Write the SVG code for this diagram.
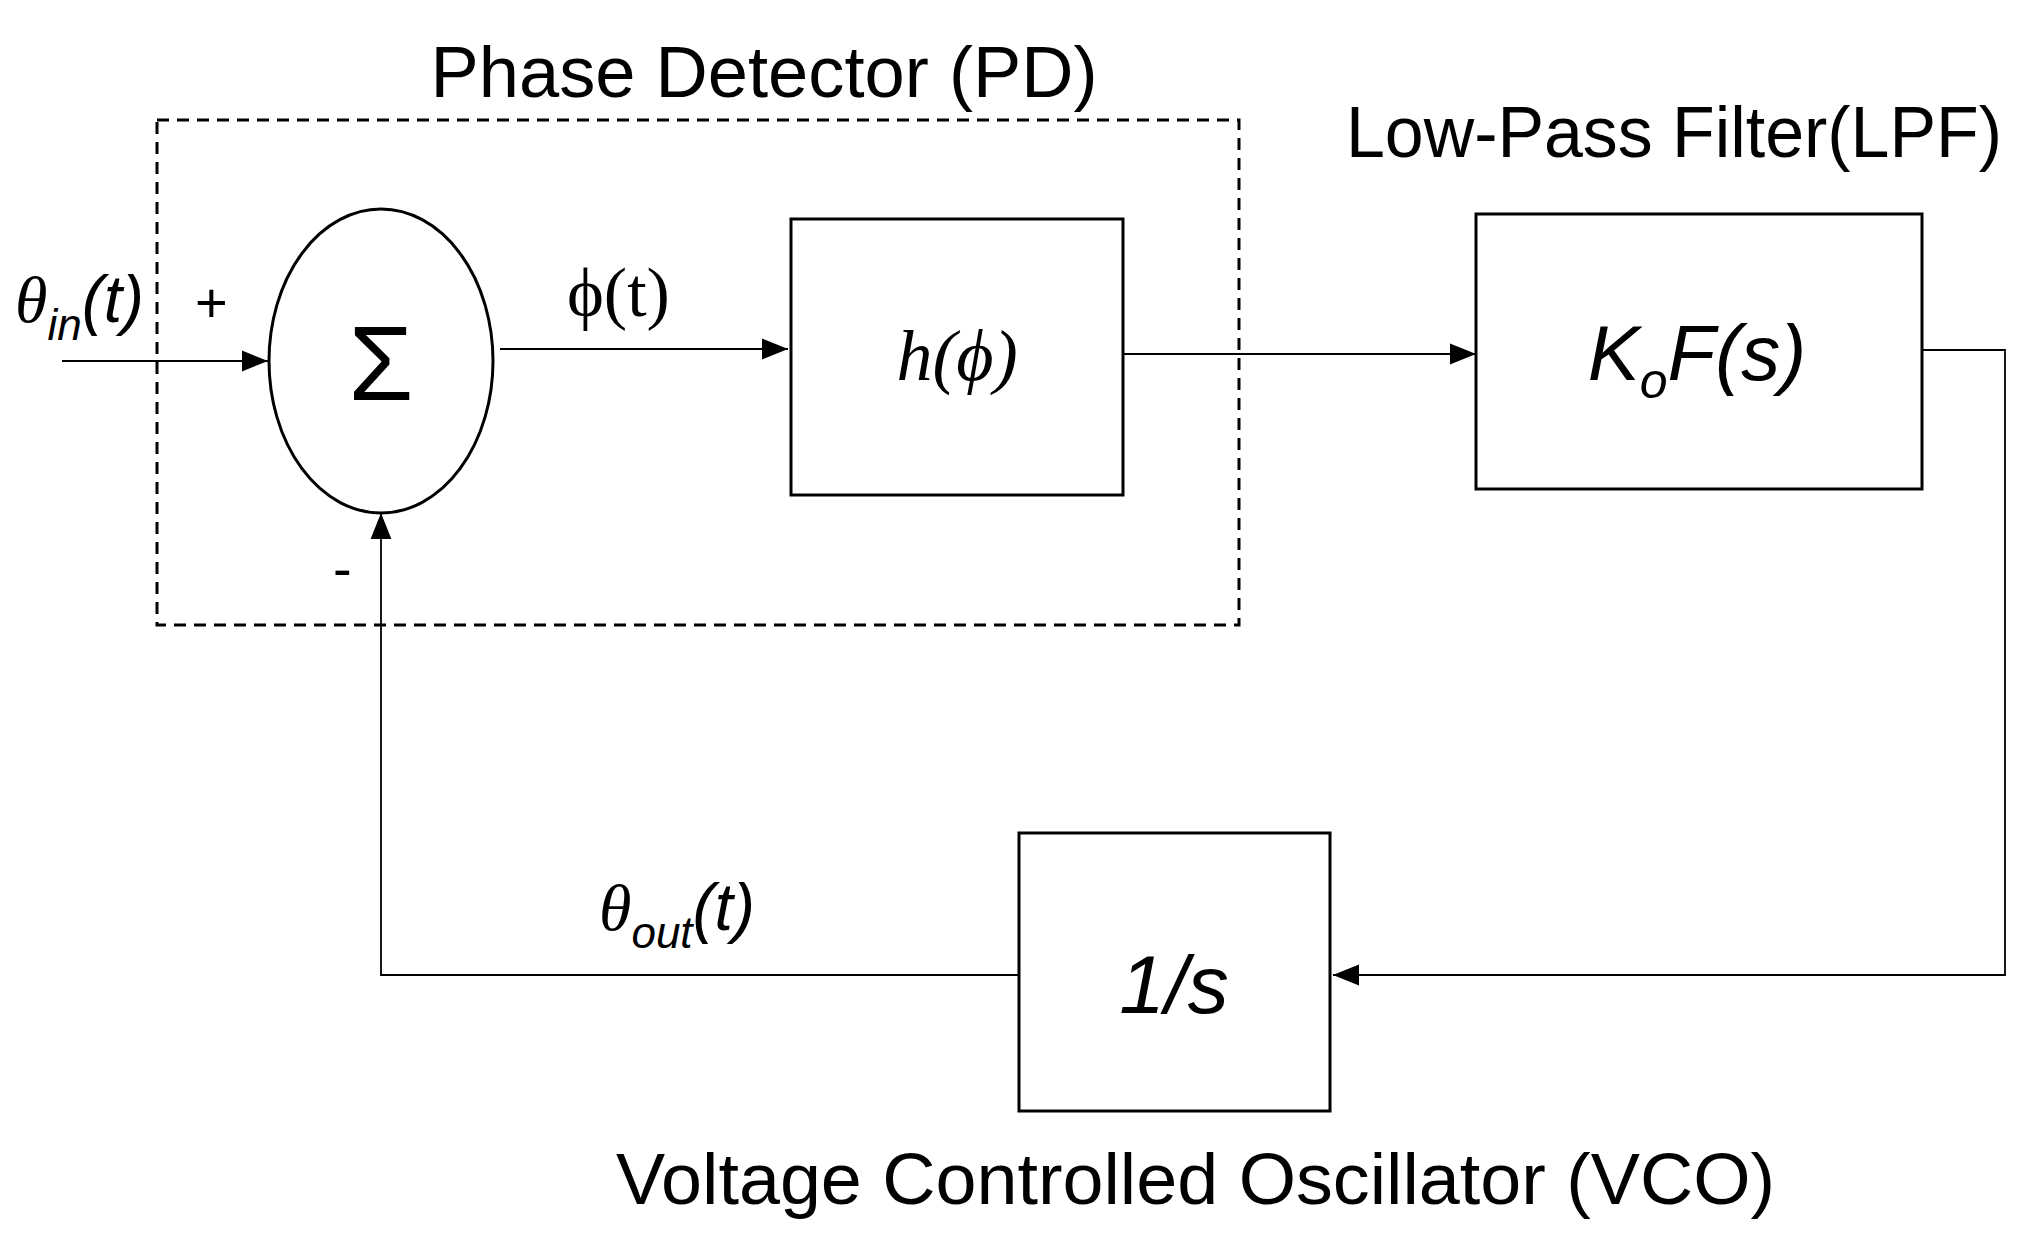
<svg xmlns="http://www.w3.org/2000/svg" width="2019" height="1250" viewBox="0 0 2019 1250">
<style>
.box{fill:#fff;stroke:#000;stroke-width:3}
.ln{fill:none;stroke:#000;stroke-width:1.8}
.t{font-family:"Liberation Sans Narrow","Liberation Sans",sans-serif;fill:#000}
.s{font-family:"Liberation Serif",serif;fill:#000}
</style>
<defs><marker id="a" viewBox="0 0 10 10" refX="10" refY="5" markerWidth="8" markerHeight="8" markerUnits="userSpaceOnUse" orient="auto"><path d="M0,0L10,5L0,10z" fill="#000"/></marker>
<marker id="ah" viewBox="0 0 10 10" refX="10" refY="5" markerWidth="26" markerHeight="26" markerUnits="userSpaceOnUse" orient="auto"><path d="M0,1L10,5L0,9z" fill="#000"/></marker></defs>
<rect x="0" y="0" width="2019" height="1250" fill="#fff"/>
<rect id="pd" x="157" y="120" width="1082" height="505" fill="none" stroke="#000" stroke-width="3" stroke-dasharray="12,8"/>
<g id="connectors">
<path class="ln" d="M62,361H268" marker-end="url(#ah)"/>
<path class="ln" d="M500,349H788" marker-end="url(#ah)"/>
<path class="ln" d="M1123,354H1476" marker-end="url(#ah)"/>
<path class="ln" d="M1922,350H2005V975H1333" marker-end="url(#ah)"/>
<path class="ln" d="M1019,975H381V513" marker-end="url(#ah)"/>
</g>
<g id="sum"><ellipse class="box" cx="381" cy="361" rx="112" ry="152"/><text class="t" x="381" y="400" font-size="105" text-anchor="middle">Σ</text></g>
<g id="h"><rect class="box" x="791" y="219" width="332" height="276"/><text class="s" x="957" y="380" font-size="72" font-style="italic" text-anchor="middle">h(ϕ)</text></g>
<g id="lpf"><rect class="box" x="1476" y="214" width="446" height="275"/><text class="t" x="1697" y="380" font-size="78" font-style="italic" text-anchor="middle">K<tspan font-size="50" dy="18">o</tspan><tspan dy="-18">F(s)</tspan></text></g>
<g id="vco"><rect class="box" x="1019" y="833" width="311" height="278"/><text class="t" x="1174" y="1013" font-size="82" font-style="italic" text-anchor="middle">1/s</text></g>
<text class="t" x="764" y="97" font-size="72" text-anchor="middle" textLength="667" lengthAdjust="spacingAndGlyphs">Phase Detector (PD)</text>
<text class="t" x="1346" y="157" font-size="72" textLength="656" lengthAdjust="spacingAndGlyphs">Low-Pass Filter(LPF)</text>
<text class="t" x="616" y="1204" font-size="72" textLength="1159" lengthAdjust="spacingAndGlyphs">Voltage Controlled Oscillator (VCO)</text>
<text class="s" x="15" y="322" font-size="66" font-style="italic">θ<tspan class="t" font-size="44" dy="18">in</tspan><tspan class="t" dy="-18" font-size="66">(t)</tspan></text>
<text class="t" x="195" y="322" font-size="56">+</text>
<text class="t" x="333" y="588" font-size="56">-</text>
<text class="s" x="567" y="316" font-size="70">ϕ(t)</text>
<text class="s" x="599" y="930" font-size="66" font-style="italic">θ<tspan class="t" font-size="44" dy="18">out</tspan><tspan class="t" dy="-18" font-size="66">(t)</tspan></text>
</svg>
